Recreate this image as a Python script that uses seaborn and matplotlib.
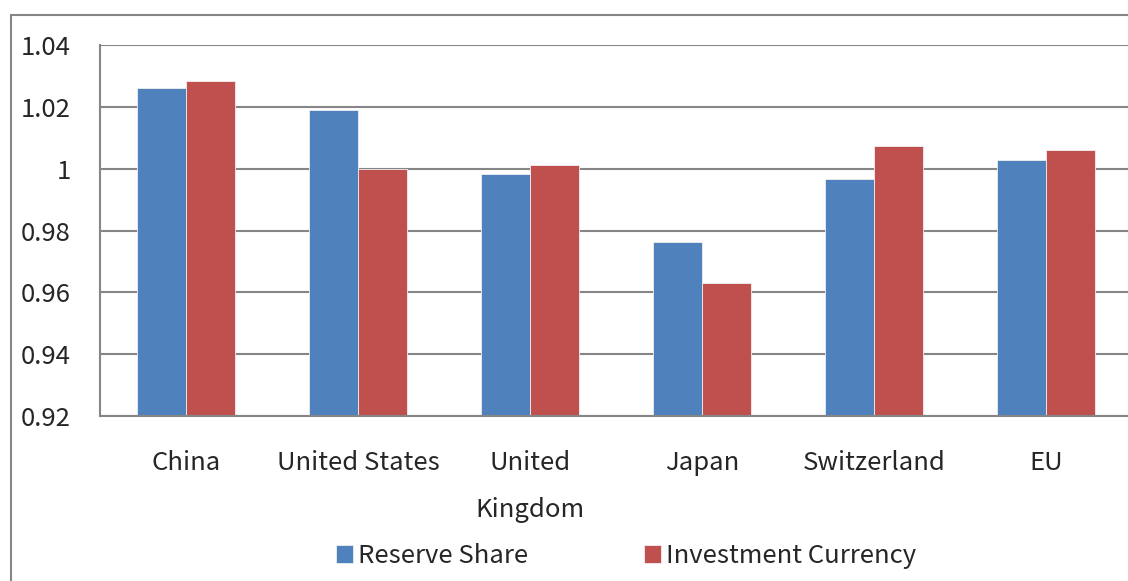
import pandas as pd
import seaborn as sns
from matplotlib import pyplot as plt
from matplotlib.patches import Rectangle

# data
paises = ['China', 'United States', 'United\nKingdom', 'Japan', 'Switzerland', 'EU']
reserve_share = [1.0262, 1.0190, 0.9982, 0.9764, 0.9968, 1.0027]
investment_currency = [1.0285, 1.0000, 1.0012, 0.9631, 1.0072, 1.0061]
series = ['Reserve Share', 'Investment Currency']
cores = ['#4F81BD', '#C0504D']
y_ticks = [0.92, 0.94, 0.96, 0.98, 1.00, 1.02, 1.04]

df = pd.DataFrame({
    'Pais': paises * 2,
    'Serie': [series[0]] * len(paises) + [series[1]] * len(paises),
    'Valor': reserve_share + investment_currency,
})

sns.set_style('white')
plt.rcParams['font.family'] = ['Noto Sans CJK KR', 'DejaVu Sans']
cinza = '#868686'
fonte = 18.5

fig = plt.figure(figsize=(11.28, 5.81), dpi=100)
ax = fig.add_axes([100 / 1128, 1 - 416 / 581, 1032 / 1128, 371 / 581])

sns.barplot(data=df, x='Pais', y='Valor', hue='Serie', palette=cores,
            width=0.57, saturation=1, edgecolor='#f0f0f0', linewidth=0.6,
            ax=ax, legend=True)

ax.set_ylim(0.92, 1.04)
ax.set_xlim(-0.5, len(paises) - 0.5)
ax.set_yticks(y_ticks)
ax.set_yticklabels(['%g' % v for v in y_ticks])
ax.set_xticks([i - 0.5 for i in range(len(paises))], minor=True)
ax.tick_params(axis='x', which='major', length=0, pad=24.5, labelsize=fonte)
ax.tick_params(axis='x', which='minor', length=7, width=1.5, color=cinza, direction='out')
ax.tick_params(axis='y', length=7, width=1.5, color=cinza, direction='out', pad=14, labelsize=fonte)
ax.set_axisbelow(True)
ax.yaxis.grid(True, color=cinza, linewidth=1.5)
ax.set_xlabel('')
ax.set_ylabel('')
for lado in ['top', 'right']:
    ax.spines[lado].set_visible(False)
for lado in ['left', 'bottom']:
    ax.spines[lado].set_color(cinza)
    ax.spines[lado].set_linewidth(1.5)
for t in ax.get_xticklabels():
    t.set_linespacing(2.05)

handles, labels = ax.get_legend_handles_labels()
ax.get_legend().remove()
fig.legend(handles, labels, loc='center', bbox_to_anchor=(626 / 1128, 1 - 556 / 581),
           ncol=2, frameon=False, fontsize=fonte, handlelength=0.65, handleheight=0.65,
           handletextpad=0.2, columnspacing=4.5)

# moldura externa do grafico
fig.patches.append(Rectangle((11 / 1128, -0.1), 1.2, 1 - 15 / 581 + 0.1,
                             transform=fig.transFigure, fill=False,
                             edgecolor=cinza, linewidth=1.5))

fig.savefig('out.png', dpi=100)
